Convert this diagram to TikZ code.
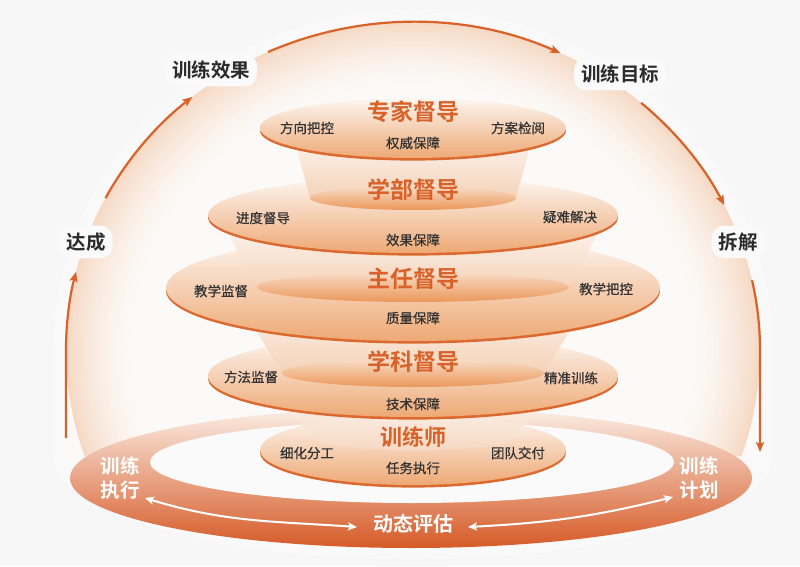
\documentclass[tikz,border=0pt]{standalone}
\usepackage{fontspec}
\setmainfont{Noto Sans CJK SC}[BoldFont={Noto Sans CJK SC Bold}]
\newfontfamily\labfont{Noto Sans CJK SC}[FakeBold=0.6]
\usetikzlibrary{arrows.meta}
\definecolor{bg}{HTML}{F7F7F7}
\definecolor{org}{HTML}{D9622B}
\definecolor{rimc}{HTML}{DC6A30}
\definecolor{txt}{HTML}{333333}
\definecolor{outtxt}{HTML}{2B2B2B}
\definecolor{glow}{HTML}{F6D9C4}
\definecolor{glowbase}{HTML}{FCFAF8}
\definecolor{dtop}{HTML}{FDF7F2}
\definecolor{dmid}{HTML}{F4CAA7}
\definecolor{dbot}{HTML}{EEA975}
\definecolor{ctop}{HTML}{FEFAF7}
\definecolor{cbot}{HTML}{F3CCAE}
\definecolor{btop}{HTML}{F8DDC8}
\definecolor{bbot}{HTML}{EB975A}
\definecolor{ringT}{HTML}{FBEEE5}
\definecolor{ringM}{HTML}{E7A17E}
\definecolor{ringB}{HTML}{D65A27}
\definecolor{holec}{HTML}{FAFAFA}
\newcommand\mydisk[4]{%
  \fill[rimc] (#1,#2-2.6) ellipse[x radius=#3, y radius=#4];
  \shade[top color=dtop, middle color=dmid, bottom color=dbot] (#1,#2) ellipse[x radius=#3, y radius=#4];}
\newcommand\mycone[6]{%
  \shade[top color=ctop, bottom color=cbot] (#1-#3,#2) -- (#1-#5,#4) arc[start angle=180,end angle=360,x radius=#5,y radius=#6] -- (#1+#3,#2) -- cycle;
  \shade[top color=btop, bottom color=bbot] (#1,#4) ellipse[x radius=#5, y radius=#6];}
\begin{document}
\begin{tikzpicture}[x=1pt,y=1pt,
  arcl/.style={draw=org, line width=2.2pt, -{Stealth[length=10pt,width=8pt,inset=2pt]}},
  warr/.style={draw=white, line width=2pt, {Stealth[length=9pt,width=8pt,inset=2pt]}-{Stealth[length=9pt,width=8pt,inset=2pt]}},
  title/.style={font=\bfseries\fontsize{23}{23}\selectfont, text=org, inner sep=0pt},
  lab/.style={font=\labfont\fontsize{13.5}{14}\selectfont, text=txt, inner sep=0pt},
  outl/.style={font=\bfseries\fontsize{19.5}{20}\selectfont, text=outtxt, fill=white!35!bg, rounded corners=12pt, inner sep=7pt},
  ringl/.style={font=\bfseries\fontsize{19.5}{24}\selectfont, text=white, align=center, inner sep=0pt}]
\useasboundingbox (0,0) rectangle (800,566);
\fill[bg] (0,0) rectangle (800,566);
% halo
\fill[white!30!bg, draw=black!4, line width=0.8pt] (52,110) -- (52,216) arc[start angle=180,end angle=0,x radius=361,y radius=342] -- (774,110) arc[start angle=0, end angle=-180, x radius=361, y radius=104] -- cycle;
% dome glow
\begin{scope}
\clip (66,110) -- (66,216) arc[start angle=180,end angle=0,x radius=347,y radius=328] -- (760,110) -- cycle;
\fill[glowbase] (0,0) rectangle (800,566);
\foreach \i in {0,...,31}{
  \pgfmathsetmacro\f{1-0.22*\i/31}
  \pgfmathtruncatemacro\p{100*(1-\i/31)^1.8}
  \fill[glow!\p!glowbase] (413,216) ellipse[x radius=347*\f, y radius=328*\f];
}
\end{scope}
% outer cycle arcs
\draw[arcl] (66,128) -- (66,216) arc[start angle=180, end angle=166.2, x radius=347, y radius=328];
\draw[arcl] ([shift={(152.4:347 and 328)}]413,216) arc[start angle=152.4, end angle=129.5, x radius=347, y radius=328];
\draw[arcl] ([shift={(114.7:347 and 328)}]413,216) arc[start angle=114.7, end angle=64.9, x radius=347, y radius=328];
\draw[arcl] ([shift={(48.9:347 and 328)}]413,216) arc[start angle=48.9, end angle=26.2, x radius=347, y radius=328];
\draw[arcl] ([shift={(12.3:347 and 328)}]413,216) arc[start angle=12.3, end angle=0, x radius=347, y radius=328] -- (760,114);
\node[outl] (o1) at (211,496) {训练效果};
\node[outl] (o2) at (620,492) {训练目标};
\node[outl] (o3) at (86,324) {达成};
\node[outl] (o4) at (738,324) {拆解};
% ring
\shade[top color=ringT, middle color=ringM, bottom color=ringB] (411,88) ellipse[x radius=341, y radius=70];
\fill[holec] (412,104) ellipse[x radius=262, y radius=41];
% stack
\mydisk{413}{116}{153}{35}
\begin{scope}[opacity=0.85]
\shade[top color=ctop, bottom color=cbot!70!white] (253,190) -- (316,126) arc[start angle=180,end angle=360,x radius=97,y radius=10] -- (573,190) -- cycle;
\end{scope}
\mydisk{413}{190}{205}{41}
\mycone{413}{278}{183}{193}{131}{14}
\mydisk{413}{278}{247}{53}
\mycone{413}{351}{195}{279}{156}{15}
\mydisk{413}{351}{205}{38}
\mycone{413}{438}{122}{368}{103}{12}
\mydisk{413}{438}{153}{30}
% texts
\node[title] (t1) at (413,454) {专家督导};
\node[lab] (a1) at (307,438) {方向把控};
\node[lab] (b1) at (518,438) {方案检阅};
\node[lab] (c1) at (413,423) {权威保障};
\node[title] (t2) at (413,376) {学部督导};
\node[lab] (a2) at (263,348) {进度督导};
\node[lab] (b2) at (570,349) {疑难解决};
\node[lab] (c2) at (413,326) {效果保障};
\node[title] (t3) at (413,287) {主任督导};
\node[lab] (a3) at (221,275) {教学监督};
\node[lab] (b3) at (606,277) {教学把控};
\node[lab] (c3) at (413,248) {质量保障};
\node[title] (t4) at (413,204) {学科督导};
\node[lab] (a4) at (251,189) {方法监督};
\node[lab] (b4) at (571,188) {精准训练};
\node[lab] (c4) at (413,162) {技术保障};
\node[title, font=\bfseries\fontsize{22}{22}\selectfont] (t5) at (413,129) {训练师};
\node[lab] (a5) at (307,113) {细化分工};
\node[lab] (b5) at (518,113) {团队交付};
\node[lab] (c5) at (413,98) {任务执行};
% ring labels
\node[ringl] (exec) at (120,88) {训练\\执行};
\node[ringl] (plan) at (699,88) {训练\\计划};
\node[ringl, font=\bfseries\fontsize{20}{20}\selectfont] (eval) at (413,42) {动态评估};
\draw[warr] ([shift={(25,-20)}]exec.center) to[out=-17, in=176] ([shift={(-56,-3)}]eval.center);
\draw[warr] ([shift={(55,-3)}]eval.center) to[out=3, in=-166] ([shift={(-26,-19)}]plan.center);
\end{tikzpicture}
\end{document}
